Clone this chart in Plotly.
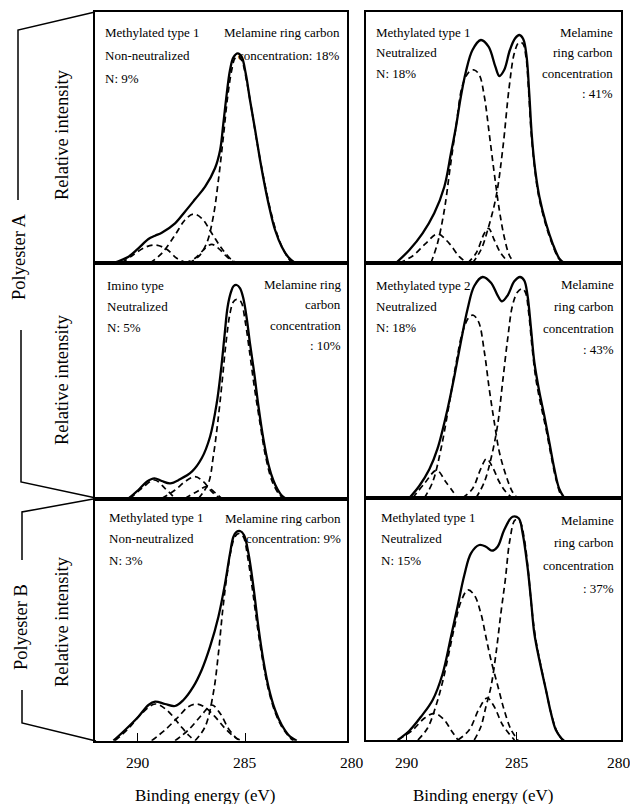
import plotly.graph_objects as go

# The page body has an 8px default margin, so the figure is drawn 8px smaller
# and every page position below is shifted by that margin.
PAGE_W, PAGE_H = 638, 804
OFF = 8
W, H = PAGE_W - OFF, PAGE_H - OFF

# ---------------- data (binding energy eV, relative intensity a.u.) ----------------
tick_values = [290, 285, 280]
tick_labels = ["290", "285", "280"]
x_title = "Binding energy (eV)"
y_title = "Relative intensity"
group_labels = ["Polyester A", "Polyester B"]

# top-left: Polyester A, methylated type 1, non-neutralized
tl_total = [(291.13, 0), (290.43, 6.3), (289.97, 14.7), (289.50, 24.0), (289.19, 27.3), (288.88, 30.3),
            (288.26, 39.7), (287.80, 51.3), (287.33, 63.7), (286.86, 76.3), (286.40, 94.7), (286.16, 113.0),
            (286.01, 139.7), (285.85, 169.7), (285.70, 193.0), (285.54, 205.7), (285.34, 209.7), (285.16, 206.3),
            (284.97, 189.7), (284.77, 163.0), (284.53, 133.0), (284.30, 103.0), (284.07, 76.3), (283.84, 53.0),
            (283.60, 33.0), (283.29, 16.3), (282.98, 5.7), (282.67, 0)]
tl_c1 = [(290.75, 0), (290.28, 7.0), (289.66, 15.7), (289.16, 18.0), (288.65, 13.7), (288.18, 4.7), (287.72, 0)]
tl_c2 = [(289.43, 0), (288.88, 9.7), (288.26, 28.0), (287.80, 43.0), (287.41, 49.0), (287.02, 44.7),
         (286.55, 29.7), (286.09, 14.7), (285.62, 3.0), (285.39, 0)]
tl_c3 = [(287.80, 0), (287.33, 4.7), (286.86, 14.7), (286.55, 18.7), (286.24, 14.7), (285.85, 6.3), (285.47, 0)]
tl_c4 = [(287.64, 0), (287.17, 6.3), (286.79, 19.7), (286.48, 46.3), (286.24, 83.0), (286.01, 126.3),
         (285.81, 166.3), (285.62, 193.0), (285.47, 204.7), (285.31, 207.0), (285.13, 201.3), (284.92, 181.3),
         (284.69, 153.0), (284.46, 123.0), (284.22, 94.7), (283.99, 69.7), (283.76, 48.0), (283.52, 29.7),
         (283.21, 13.0), (282.83, 0)]
tl_labels_left = ["Methylated type 1", "Non-neutralized", "N: 9%"]
tl_labels_right = ["Melamine ring carbon", "concentration: 18%"]

# top-right: Polyester A, methylated type 1, neutralized
tr_total = [(290.50, 0), (289.89, 13.0), (289.29, 29.7), (288.76, 49.7), (288.30, 76.3), (288.00, 109.7),
            (287.77, 136.3), (287.55, 166.3), (287.32, 191.3), (287.02, 213.0), (286.64, 223.0), (286.29, 216.3),
            (285.98, 196.3), (285.80, 187.0), (285.58, 193.0), (285.32, 213.0), (285.08, 224.7), (284.89, 228.0),
            (284.71, 223.7), (284.56, 206.3), (284.44, 169.7), (284.32, 126.3), (284.17, 93.0), (283.98, 66.3),
            (283.68, 39.7), (283.38, 19.7), (283.08, 4.7), (282.85, 0)]
tr_c1 = [(290.35, 0), (289.74, 7.0), (289.14, 19.7), (288.61, 29.0), (288.08, 19.7), (287.62, 6.3), (287.24, 0)]
tr_c2 = [(288.91, 0), (288.61, 19.7), (288.30, 53.0), (288.05, 93.0), (287.77, 136.3), (287.47, 178.0),
         (287.17, 191.3), (286.94, 193.0), (286.71, 188.0), (286.48, 166.3), (286.26, 129.7), (286.03, 89.7),
         (285.80, 53.0), (285.58, 26.3), (285.35, 8.0), (285.12, 0)]
tr_c3 = [(287.24, 0), (286.86, 9.7), (286.48, 29.7), (286.29, 34.7), (286.03, 23.0), (285.73, 9.7), (285.35, 0)]
tr_c4 = [(287.02, 0), (286.64, 13.0), (286.33, 33.0), (285.95, 66.0), (285.65, 113.0), (285.35, 176.3),
         (285.12, 209.7), (284.92, 220.3), (284.74, 219.7), (284.59, 206.3), (284.47, 173.0), (284.35, 129.7),
         (284.20, 96.3), (284.02, 68.0), (283.71, 39.7), (283.41, 19.7), (283.11, 4.7), (282.89, 0)]
tr_labels_left = ["Methylated type 1", "Neutralized", "N: 18%"]
tr_labels_right = ["Melamine", "ring carbon", "concentration", ": 41%"]

# middle-left: Polyester A, imino type, neutralized
ml_total = [(290.43, 0), (289.97, 8.5), (289.58, 16.8), (289.22, 20.2), (288.88, 17.5), (288.49, 15.2),
            (288.03, 19.2), (287.48, 26.8), (287.02, 40.2), (286.63, 61.8), (286.32, 95.2), (286.12, 128.5),
            (285.96, 161.8), (285.81, 191.8), (285.65, 206.8), (285.53, 212.5), (285.39, 213.5), (285.23, 210.2),
            (285.08, 200.2), (284.92, 180.0), (284.77, 155.0), (284.57, 125.0), (284.38, 93.0), (284.15, 60.0),
            (283.91, 34.0), (283.68, 18.0), (283.48, 9.0), (283.29, 3.0), (283.11, 0)]
ml_c1 = [(290.36, 0), (289.81, 10.2), (289.22, 18.5), (288.73, 10.2), (288.26, 0)]
ml_c2 = [(288.88, 0), (288.26, 8.5), (287.80, 16.8), (287.33, 21.8), (286.94, 16.8), (286.55, 6.8), (286.16, 0)]
ml_c3 = [(287.80, 0), (287.25, 6.8), (286.79, 11.8), (286.40, 5.8), (286.09, 0)]
ml_c4 = [(287.17, 0), (286.71, 15.2), (286.48, 41.8), (286.24, 81.8), (286.06, 118.5), (285.89, 155.2),
         (285.70, 185.2), (285.54, 196.8), (285.39, 199.2), (285.19, 196.8), (285.00, 178.0), (284.81, 150.0),
         (284.57, 112.0), (284.30, 75.0), (284.04, 41.8), (283.76, 18.5), (283.45, 5.2), (283.21, 0)]
ml_labels_left = ["Imino type", "Neutralized", "N: 5%"]
ml_labels_right = ["Melamine ring", "carbon", "concentration", ": 10%"]

# middle-right: Polyester A, methylated type 2, neutralized
mr_total = [(289.89, 0), (289.44, 12.0), (288.98, 28.7), (288.61, 49.3), (288.15, 89.3), (287.85, 121.0),
            (287.55, 156.0), (287.24, 189.3), (286.94, 212.0), (286.56, 221.0), (286.18, 215.3), (285.88, 202.7),
            (285.68, 196.7), (285.42, 202.7), (285.12, 216.7), (284.86, 221.0), (284.67, 217.7), (284.52, 202.7),
            (284.36, 169.3), (284.21, 136.0), (283.98, 106.0), (283.76, 82.7), (283.53, 56.0), (283.30, 29.3),
            (283.08, 9.3), (282.85, 0)]
mr_c1 = [(289.74, 0), (289.21, 14.3), (288.65, 27.7), (288.23, 16.0), (287.70, 0)]
mr_c2 = [(289.21, 0), (288.83, 16.0), (288.45, 49.3), (288.08, 94.0), (287.77, 134.0), (287.47, 166.0),
         (287.17, 181.0), (286.98, 182.7), (286.74, 176.0), (286.48, 146.0), (286.26, 109.3), (286.03, 76.0),
         (285.80, 46.0), (285.50, 22.7), (285.20, 6.0), (284.97, 0)]
mr_c3 = [(287.47, 0), (287.02, 9.3), (286.64, 29.3), (286.38, 39.3), (286.11, 31.0), (285.80, 16.0),
         (285.50, 6.0), (285.20, 0)]
mr_c4 = [(286.86, 0), (286.48, 16.0), (286.18, 39.3), (285.88, 72.7), (285.65, 116.0), (285.42, 159.3),
         (285.20, 192.7), (284.97, 206.0), (284.77, 209.3), (284.62, 206.0), (284.47, 186.0), (284.32, 152.7),
         (284.14, 119.3), (283.91, 92.7), (283.68, 69.3), (283.45, 42.7), (283.23, 19.3), (283.00, 2.7), (282.89, 0)]
mr_labels_left = ["Methylated type 2", "Neutralized", "N: 18%"]
mr_labels_right = ["Melamine", "ring carbon", "concentration", ": 43%"]

# bottom-left: Polyester B, methylated type 1, non-neutralized
bl_total = [(291.13, 0), (290.59, 10.7), (289.97, 24.0), (289.50, 35.7), (289.19, 39.0), (288.73, 36.7),
            (288.26, 34.7), (287.87, 40.7), (287.41, 54.0), (287.02, 70.7), (286.63, 94.0), (286.24, 124.0),
            (285.93, 157.3), (285.70, 187.3), (285.54, 204.0), (285.39, 209.0), (285.23, 209.7), (285.05, 205.7),
            (284.84, 187.3), (284.61, 154.0), (284.38, 114.0), (284.15, 80.7), (283.91, 54.0), (283.60, 30.7),
            (283.29, 15.7), (282.90, 4.0), (282.59, 0)]
bl_c1 = [(291.06, 0), (290.43, 12.3), (289.81, 27.3), (289.19, 36.7), (288.65, 30.7), (288.10, 17.3),
         (287.64, 5.7), (287.33, 0)]
bl_c2 = [(289.35, 0), (288.73, 10.7), (288.10, 24.0), (287.64, 34.0), (287.25, 36.7), (286.86, 33.3),
         (286.40, 24.0), (285.93, 12.3), (285.47, 3.3), (285.16, 0)]
bl_c3 = [(288.26, 0), (287.64, 10.7), (287.02, 25.7), (286.55, 35.7), (286.16, 27.3), (285.78, 12.3),
         (285.39, 2.3), (285.23, 0)]
bl_c4 = [(287.33, 0), (286.86, 14.0), (286.48, 47.3), (286.24, 87.3), (286.04, 130.7), (285.85, 164.0),
         (285.65, 190.7), (285.47, 204.0), (285.28, 207.3), (285.08, 204.0), (284.88, 184.0), (284.66, 152.0),
         (284.41, 112.0), (284.15, 77.0), (283.91, 51.0), (283.60, 28.5), (283.29, 14.0), (282.95, 4.0), (282.75, 0)]
bl_labels_left = ["Methylated type 1", "Non-neutralized", "N: 3%"]
bl_labels_right = ["Melamine ring carbon", "concentration: 9%"]

# bottom-right: Polyester B, methylated type 1, neutralized
br_total = [(290.42, 0), (289.89, 9.3), (289.36, 23.3), (288.83, 40.0), (288.38, 66.0), (288.00, 103.0),
            (287.70, 133.3), (287.39, 165.0), (287.09, 186.7), (286.71, 195.0), (286.41, 193.3), (286.14, 189.3),
            (285.88, 193.3), (285.58, 210.0), (285.20, 223.3), (284.92, 221.7), (284.74, 206.7), (284.52, 173.3),
            (284.36, 140.0), (284.21, 106.7), (283.98, 80.0), (283.68, 50.0), (283.45, 26.7), (283.23, 10.0),
            (282.92, 0)]
br_c1 = [(290.41, 0), (289.74, 10.0), (289.21, 21.7), (288.74, 26.7), (288.30, 20.0), (288.00, 10.0), (287.68, 0)]
br_c2 = [(289.50, 0), (289.06, 12.0), (288.67, 35.0), (288.38, 58.0), (288.11, 85.0), (287.85, 112.0),
         (287.55, 138.0), (287.23, 150.0), (286.94, 145.0), (286.64, 126.7), (286.41, 103.3), (286.18, 80.0),
         (285.86, 53.3), (285.58, 30.0), (285.26, 10.0), (284.95, 0)]
br_c3 = [(287.68, 0), (287.17, 10.0), (286.71, 31.7), (286.35, 42.0), (286.03, 33.3), (285.65, 15.0), (285.11, 0)]
br_c4 = [(286.94, 0), (286.64, 13.3), (286.41, 33.3), (286.18, 53.3), (285.95, 86.7), (285.73, 126.7),
         (285.53, 160.0), (285.32, 200.0), (285.08, 220.0), (284.86, 218.3), (284.67, 201.7), (284.48, 168.0),
         (284.32, 130.0), (284.14, 100.0), (283.92, 75.0), (283.68, 50.0), (283.45, 27.0), (283.23, 11.0),
         (283.00, 2.0), (282.85, 0)]
br_labels_left = ["Methylated type 1", "Neutralized", "N: 15%"]
br_labels_right = ["Melamine", "ring carbon", "concentration", ": 37%"]

# ---------------- layout (pixel geometry on the page) ----------------
FONT = "Liberation Serif, Times New Roman, serif"
panels = [
    dict(total=tl_total, comps=[tl_c1, tl_c2, tl_c3, tl_c4], left=tl_labels_left, right=tl_labels_right,
         box=(95, 12, 347, 263), xr=(291.99, 280.25), lt=(103, 33, 22.5), rt=(342, 33, 22.5), bottom=False),
    dict(total=tr_total, comps=[tr_c1, tr_c2, tr_c3, tr_c4], left=tr_labels_left, right=tr_labels_right,
         box=(366, 12, 621, 263), xr=(291.86, 280.27), lt=(374, 32, 20.5), rt=(615, 32, 20.5), bottom=False),
    dict(total=ml_total, comps=[ml_c1, ml_c2, ml_c3, ml_c4], left=ml_labels_left, right=ml_labels_right,
         box=(95, 263, 347, 498.5), xr=(291.99, 280.25), lt=(105, 285, 21), rt=(343, 284, 20.5), bottom=False),
    dict(total=mr_total, comps=[mr_c1, mr_c2, mr_c3, mr_c4], left=mr_labels_left, right=mr_labels_right,
         box=(366, 263, 621, 498), xr=(291.86, 280.27), lt=(374, 285, 21), rt=(616, 284, 22), bottom=False),
    dict(total=bl_total, comps=[bl_c1, bl_c2, bl_c3, bl_c4], left=bl_labels_left, right=bl_labels_right,
         box=(95, 498.5, 347, 740.7), xr=(291.99, 280.25), lt=(107, 517, 21.5), rt=(343, 518, 20), bottom=True),
    dict(total=br_total, comps=[br_c1, br_c2, br_c3, br_c4], left=br_labels_left, right=br_labels_right,
         box=(366, 498, 621, 740), xr=(291.86, 280.27), lt=(379, 517, 21.5), rt=(616, 520, 22.7), bottom=True),
]


def px(x):
    return (x - OFF) / W


def py(y):
    return 1 - (y - OFF) / H


fig = go.Figure()
annotations = []
layout_axes = {}

for i, p in enumerate(panels, start=1):
    x0, y0, x1, y1 = p["box"]
    xa = "x" if i == 1 else f"x{i}"
    ya = "y" if i == 1 else f"y{i}"
    xkey = "xaxis" if i == 1 else f"xaxis{i}"
    ykey = "yaxis" if i == 1 else f"yaxis{i}"
    layout_axes[xkey] = dict(
        domain=[px(x0), px(x1)], range=list(p["xr"]), anchor=ya,
        showline=True, linecolor="black", linewidth=1.6, mirror=True,
        showgrid=False, zeroline=False,
        tickvals=tick_values[:2] if p["bottom"] else [],
        ticks="inside" if p["bottom"] else "", ticklen=8, tickwidth=1.4, tickcolor="black",
        showticklabels=False,
    )
    layout_axes[ykey] = dict(
        domain=[py(y1), py(y0)], range=[0, y1 - y0], anchor=xa,
        showline=True, linecolor="black", linewidth=1.6, mirror=True,
        showgrid=False, zeroline=False, ticks="", showticklabels=False,
    )
    for comp in p["comps"]:
        fig.add_trace(go.Scatter(
            x=[c[0] for c in comp], y=[c[1] for c in comp], mode="lines",
            line=dict(color="black", width=1.7, dash="6px,4px", shape="spline", smoothing=1.0),
            xaxis=xa, yaxis=ya, showlegend=False, hoverinfo="skip"))
    fig.add_trace(go.Scatter(
        x=[c[0] for c in p["total"]], y=[c[1] for c in p["total"]], mode="lines",
        line=dict(color="black", width=2.3, shape="spline", smoothing=1.0),
        xaxis=xa, yaxis=ya, showlegend=False, hoverinfo="skip"))

    lx, ly, ls = p["lt"]
    for k, t in enumerate(p["left"]):
        annotations.append(dict(text=t, xref="paper", yref="paper", x=px(lx), y=py(ly + k * ls),
                                xanchor="left", yanchor="middle", showarrow=False,
                                font=dict(family=FONT, size=13, color="black")))
    rx, ry, rs = p["rt"]
    for k, t in enumerate(p["right"]):
        annotations.append(dict(text=t, xref="paper", yref="paper", x=px(rx), y=py(ry + k * rs),
                                xanchor="right", yanchor="middle", showarrow=False,
                                font=dict(family=FONT, size=13, color="black")))
    if p["bottom"]:
        # tick labels placed with the axis' own linear scale (280 lies just past the plotted range)
        r0, r1 = p["xr"]
        for v, lab in zip(tick_values, tick_labels):
            xpix = x0 + (r0 - v) / (r0 - r1) * (x1 - x0)
            xpix = min(xpix, PAGE_W - 19)
            annotations.append(dict(text=lab, xref="paper", yref="paper", x=px(xpix), y=py(762),
                                    xanchor="center", yanchor="middle", showarrow=False,
                                    font=dict(family=FONT, size=15.5, color="black")))
        xc = 205 if i == 5 else 483
        annotations.append(dict(text=x_title, xref="paper", yref="paper", x=px(xc),
                                y=py(795), xanchor="center", yanchor="middle", showarrow=False,
                                font=dict(family=FONT, size=17, color="black")))

# y titles ("Relative intensity") for each row
for yc in [135, 380, 622]:
    annotations.append(dict(text=y_title, xref="paper", yref="paper", x=px(62), y=py(yc),
                            xanchor="center", yanchor="middle", showarrow=False, textangle=-90,
                            font=dict(family=FONT, size=18.5, color="black")))
# group labels
for lab, yc, xc in [(group_labels[0], 257, 19), (group_labels[1], 627, 21)]:
    annotations.append(dict(text=lab, xref="paper", yref="paper", x=px(xc), y=py(yc),
                            xanchor="center", yanchor="middle", showarrow=False, textangle=-90,
                            font=dict(family=FONT, size=18.5, color="black")))

bracket_paths = [
    [(95, 12), (18, 30), (18, 200)],
    [(21, 330), (21, 482), (96, 498)],
    [(96, 498.5), (22, 512), (22, 560)],
    [(22, 690), (22, 723), (96, 741)],
]
shapes = []
for path in bracket_paths:
    d = "M " + " L ".join(f"{px(a)},{py(b)}" for a, b in path)
    shapes.append(dict(type="path", xref="paper", yref="paper", path=d,
                       line=dict(color="black", width=1.5)))

fig.update_layout(
    width=W, height=H, margin=dict(l=0, r=0, t=0, b=0),
    paper_bgcolor="white", plot_bgcolor="white",
    annotations=annotations, shapes=shapes, showlegend=False,
    **layout_axes,
)

fig.write_html("out.html")
